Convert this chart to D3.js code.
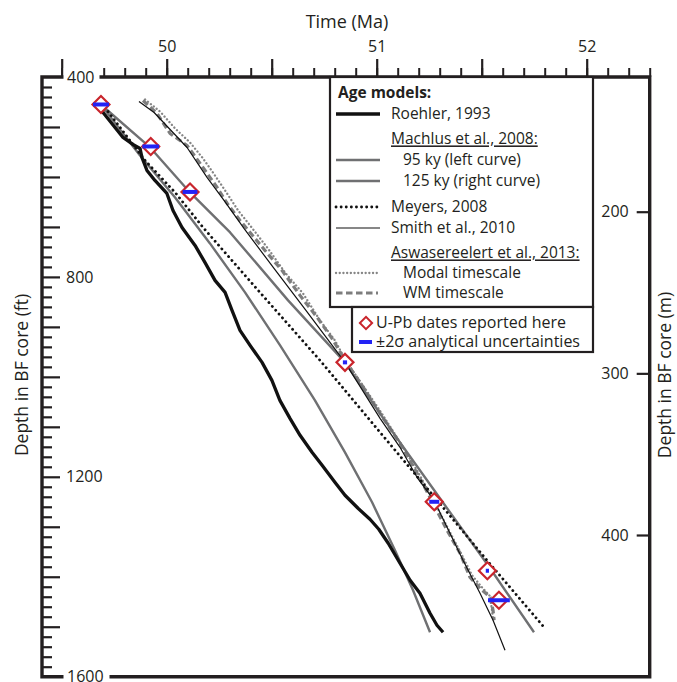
<!DOCTYPE html>
<html>
<head>
<meta charset="utf-8">
<script src="https://cdn.jsdelivr.net/npm/d3@7/dist/d3.min.js"></script>
<style>
  body { margin: 0; background: #fff; }
  text { font-family: "Open Sans", sans-serif; fill: #231f20; }
</style>
</head>
<body>
<div id="chart"></div>
<script>
// Age models: [age (Ma), depth (ft)]
var roehler = [[49.687, 455], [49.697, 471], [49.716, 481], [49.754, 501], [49.792, 521], [49.839, 535],
  [49.873, 543], [49.882, 561], [49.906, 587], [49.944, 607], [50.001, 633], [50.030, 667], [50.073, 701],
  [50.135, 737], [50.182, 771], [50.230, 807], [50.278, 831], [50.311, 867], [50.349, 907], [50.397, 937],
  [50.454, 971], [50.501, 1007], [50.539, 1047], [50.587, 1083], [50.635, 1117], [50.692, 1151],
  [50.740, 1177], [50.801, 1211], [50.849, 1237], [50.911, 1263], [50.968, 1285], [51.010, 1305],
  [51.055, 1333], [51.111, 1373], [51.159, 1407], [51.206, 1433], [51.254, 1473], [51.287, 1497], [51.316, 1511]];

var machlus95 = [[49.697, 461], [49.873, 557], [50.040, 641], [50.206, 733], [50.373, 831], [50.540, 937],
  [50.706, 1047], [50.849, 1151], [50.978, 1251], [51.087, 1347], [51.173, 1427], [51.254, 1511]];

var machlus125 = [[49.697, 459], [49.921, 541], [50.111, 631], [50.302, 711], [50.578, 847], [50.849, 971],
  [51.087, 1117], [51.301, 1243], [51.530, 1377], [51.749, 1511]];

var meyers = [[49.706, 461], [49.897, 567], [50.040, 631], [50.173, 701], [50.444, 831], [50.730, 967],
  [51.016, 1111], [51.292, 1249], [51.525, 1367], [51.801, 1503]];

var smith = [[49.868, 449], [49.940, 471], [50.097, 541], [50.192, 601], [50.273, 647], [50.368, 703],
  [50.511, 783], [50.663, 867], [50.849, 971], [51.016, 1083], [51.111, 1141], [51.192, 1201],
  [51.273, 1247], [51.335, 1301], [51.411, 1367], [51.492, 1433], [51.554, 1487], [51.611, 1547]];

var modal = [[49.897, 445], [49.968, 469], [50.040, 503], [50.111, 531], [50.173, 563], [50.220, 591],
  [50.278, 627], [50.340, 667], [50.397, 697], [50.482, 743], [50.563, 791], [50.649, 833], [50.730, 887],
  [50.801, 927], [50.858, 971], [50.944, 1023], [51.030, 1077], [51.120, 1137], [51.197, 1191],
  [51.263, 1241], [51.339, 1303], [51.406, 1357], [51.454, 1397], [51.501, 1421], [51.540, 1439],
  [51.549, 1467], [51.554, 1483]];

var wm = [[49.887, 447], [49.954, 473], [50.016, 513], [50.097, 537], [50.159, 573], [50.240, 621],
  [50.288, 653], [50.349, 687], [50.397, 711], [50.468, 747], [50.549, 787], [50.635, 837], [50.720, 883],
  [50.787, 923], [50.849, 967], [50.930, 1017], [51.016, 1073], [51.111, 1133], [51.192, 1193],
  [51.254, 1241], [51.335, 1307], [51.397, 1353], [51.444, 1401], [51.492, 1423], [51.540, 1441],
  [51.554, 1467], [51.559, 1487]];

// U-Pb dates: age (Ma), depth (ft), 2 sigma (Ma)
var upbAge = [49.687, 49.924, 50.111, 50.849, 51.274, 51.527, 51.582];
var upbDepth = [455, 539, 630, 971, 1250, 1388, 1447];
var upbErr = [0.038, 0.040, 0.035, 0.010, 0.024, 0.007, 0.052];

var ageMajorTicks = [49.5, 50, 50.5, 51, 51.5, 52];
var ageLabels = [50, 51, 52];
var ftMajorTicks = [500, 600, 700, 800, 900, 1000, 1100, 1200, 1300, 1400, 1500];
var ftLabels = [800, 1200];
var mTicks = [200, 300, 400];

var legendLabels = ["Roehler, 1993", "Machlus et al., 2008:", "95 ky (left curve)", "125 ky (right curve)",
  "Meyers, 2008", "Smith et al., 2010", "Aswasereelert et al., 2013:", "Modal timescale", "WM timescale"];

var svgWidth = 677;
var svgHeight = 682;
var frame = { left: 42, top: 77, right: 649.7, bottom: 676.7 };

var svg = d3.select("#chart").append("svg")
  .attr("width", svgWidth)
  .attr("height", svgHeight);

var xScale = d3.scaleLinear().domain([50, 52]).range([166.7, 586.7]);
var yScale = d3.scaleLinear().domain([400, 1600]).range([frame.top, frame.bottom]);
var yMetric = d3.scaleLinear().domain([200, 400]).range([211.7, 535]);

var gray = "#6f7072";
var styles = {
  roehler: { stroke: "#111", width: 3.3, dash: null },
  m95: { stroke: gray, width: 2.4, dash: null },
  m125: { stroke: gray, width: 2.4, dash: null },
  meyers: { stroke: "#111", width: 2.8, dash: "0.1 5", cap: "round" },
  smith: { stroke: "#111", width: 1.2, dash: null },
  modal: { stroke: "#858585", width: 2.3, dash: "0.1 3.6", cap: "round" },
  wm: { stroke: "#7d7d7d", width: 3.2, dash: "6.5 3.5" }
};

var series = [
  { data: modal, s: styles.modal },
  { data: wm, s: styles.wm },
  { data: machlus95, s: styles.m95 },
  { data: machlus125, s: styles.m125 },
  { data: roehler, s: styles.roehler },
  { data: smith, s: styles.smith },
  { data: meyers, s: styles.meyers }
];

var line = d3.line()
  .x(d => xScale(d[0]))
  .y(d => yScale(d[1]));

svg.append("g").selectAll("path")
  .data(series)
  .enter()
  .append("path")
  .attr("d", d => line(d.data))
  .attr("fill", "none")
  .attr("stroke", d => d.s.stroke)
  .attr("stroke-width", d => d.s.width)
  .attr("stroke-dasharray", d => d.s.dash)
  .attr("stroke-linecap", d => d.s.cap || "butt")
  .attr("stroke-linejoin", "round");

// U-Pb diamonds and error bars
var dates = upbAge.map((a, i) => ({ age: a, depth: upbDepth[i], err: upbErr[i] }));

svg.append("g").selectAll("path")
  .data(dates)
  .enter()
  .append("path")
  .attr("d", d3.symbol().type(d3.symbolSquare).size(144))
  .attr("transform", d => `translate(${xScale(d.age)},${yScale(d.depth)}) rotate(45)`)
  .attr("fill", "#fff")
  .attr("stroke", "#c9252c")
  .attr("stroke-width", 2.2);

svg.append("g").selectAll("line")
  .data(dates)
  .enter()
  .append("line")
  .attr("x1", d => Math.min(xScale(d.age - d.err), xScale(d.age) - 1.6))
  .attr("x2", d => Math.max(xScale(d.age + d.err), xScale(d.age) + 1.6))
  .attr("y1", d => yScale(d.depth))
  .attr("y2", d => yScale(d.depth))
  .attr("stroke", "#2323f5")
  .attr("stroke-width", 4);

// Frame
svg.append("path")
  .attr("d", `M${frame.left},${frame.top}V${frame.bottom}H${frame.right}V${frame.top}Z`)
  .attr("fill", "none")
  .attr("stroke", "#231f20")
  .attr("stroke-width", 3.4);

// Top axis (Ma)
function styleAxis(g, w) {
  g.select(".domain").remove();
  g.selectAll(".tick line").attr("stroke", "#231f20").attr("stroke-width", w);
  g.selectAll(".tick text").attr("fill", "#231f20").style("font-size", "16px")
    .style("font-family", "'Open Sans', sans-serif");
}

svg.append("g")
  .attr("transform", `translate(0, ${frame.top})`)
  .call(d3.axisTop(xScale).tickValues(d3.range(495, 524).map(d => d / 10)).tickSize(9).tickFormat(""))
  .call(g => styleAxis(g, 2));

svg.append("g")
  .attr("transform", `translate(0, ${frame.top})`)
  .call(d3.axisTop(xScale).tickValues(ageMajorTicks).tickSize(18).tickPadding(7)
    .tickFormat(d => ageLabels.indexOf(d) >= 0 ? d : ""))
  .call(g => styleAxis(g, 2.2));

// Left axis (ft)
svg.append("g")
  .attr("transform", `translate(${frame.left}, 0)`)
  .call(d3.axisRight(yScale).tickValues(d3.range(420, 1600, 20).filter(d => d % 100 != 0)).tickSize(10).tickFormat(""))
  .call(g => styleAxis(g, 2.2));

svg.append("g")
  .attr("transform", `translate(${frame.left}, 0)`)
  .call(d3.axisRight(yScale).tickValues(ftMajorTicks).tickSize(18).tickPadding(6)
    .tickFormat(d => ftLabels.indexOf(d) >= 0 ? d : ""))
  .call(g => styleAxis(g, 2.2));

// 400 and 1600 labels sit on the frame lines
[400, 1600].forEach(function(v) {
  var w = v < 1000 ? 36 : 46;
  svg.append("rect")
    .attr("x", 63.5).attr("y", yScale(v) - 9)
    .attr("width", w).attr("height", 18)
    .attr("fill", "#fff");
  svg.append("text")
    .attr("x", 67).attr("y", yScale(v))
    .attr("dy", "0.35em")
    .style("font-size", "16px")
    .text(v);
});

// Right axis (m)
svg.append("g")
  .attr("transform", `translate(${frame.right}, 0)`)
  .call(d3.axisLeft(yMetric).tickValues(mTicks).tickSize(13).tickPadding(8))
  .call(g => styleAxis(g, 2.2));

// Axis titles
svg.append("text")
  .attr("x", 347).attr("y", 28)
  .attr("text-anchor", "middle")
  .style("font-size", "18px")
  .text("Time (Ma)");

svg.append("text")
  .attr("transform", "translate(22, 375) rotate(-90)")
  .attr("text-anchor", "middle")
  .attr("dy", "0.35em")
  .style("font-size", "17.5px")
  .text("Depth in BF core (ft)");

svg.append("text")
  .attr("transform", "translate(665, 375) rotate(-90)")
  .attr("text-anchor", "middle")
  .attr("dy", "0.35em")
  .style("font-size", "17.5px")
  .text("Depth in BF core (m)");

// Legend box 1: age models
var legend = svg.append("g");
legend.append("rect")
  .attr("x", 330).attr("y", frame.top)
  .attr("width", 263).attr("height", 230)
  .attr("fill", "#fff")
  .attr("stroke", "#231f20")
  .attr("stroke-width", 2.2);

legend.append("text")
  .attr("x", 338).attr("y", 93).attr("dy", "0.35em")
  .style("font-size", "15.5px").style("font-weight", "bold")
  .text("Age models:");

var rowY = [114, 139, 160, 181, 207, 228, 253, 273, 293];
var rowStyle = [styles.roehler, null, styles.m95, styles.m125, styles.meyers, styles.smith, null, styles.modal, styles.wm];
var rowIndent = [391, 391, 403, 403, 391, 391, 391, 403, 403];

legendLabels.forEach(function(label, i) {
  var s = rowStyle[i];
  if (s) {
    legend.append("line")
      .attr("x1", 336).attr("x2", s.dash ? 378 : 380)
      .attr("y1", rowY[i]).attr("y2", rowY[i])
      .attr("stroke", s.stroke)
      .attr("stroke-width", s.width)
      .attr("stroke-dasharray", s.dash)
      .attr("stroke-linecap", s.cap || "butt");
  }
  legend.append("text")
    .attr("x", rowIndent[i]).attr("y", rowY[i]).attr("dy", "0.35em")
    .style("font-size", "15.5px")
    .style("text-decoration", s ? "none" : "underline")
    .text(label);
});

// Legend box 2: U-Pb
legend.append("rect")
  .attr("x", 352).attr("y", 307)
  .attr("width", 241).attr("height", 45)
  .attr("fill", "#fff")
  .attr("stroke", "#231f20")
  .attr("stroke-width", 2.2);

legend.append("path")
  .attr("d", d3.symbol().type(d3.symbolSquare).size(75))
  .attr("transform", "translate(366, 323) rotate(45)")
  .attr("fill", "none")
  .attr("stroke", "#c9252c")
  .attr("stroke-width", 2);

legend.append("text")
  .attr("x", 376).attr("y", 322.5).attr("dy", "0.35em")
  .style("font-size", "16px")
  .text("U-Pb dates reported here");

legend.append("line")
  .attr("x1", 359).attr("x2", 372)
  .attr("y1", 342).attr("y2", 342)
  .attr("stroke", "#2323f5")
  .attr("stroke-width", 4);

legend.append("text")
  .attr("x", 376).attr("y", 341.5).attr("dy", "0.35em")
  .style("font-size", "16px")
  .text("±2σ analytical uncertainties");
</script>
</body>
</html>
